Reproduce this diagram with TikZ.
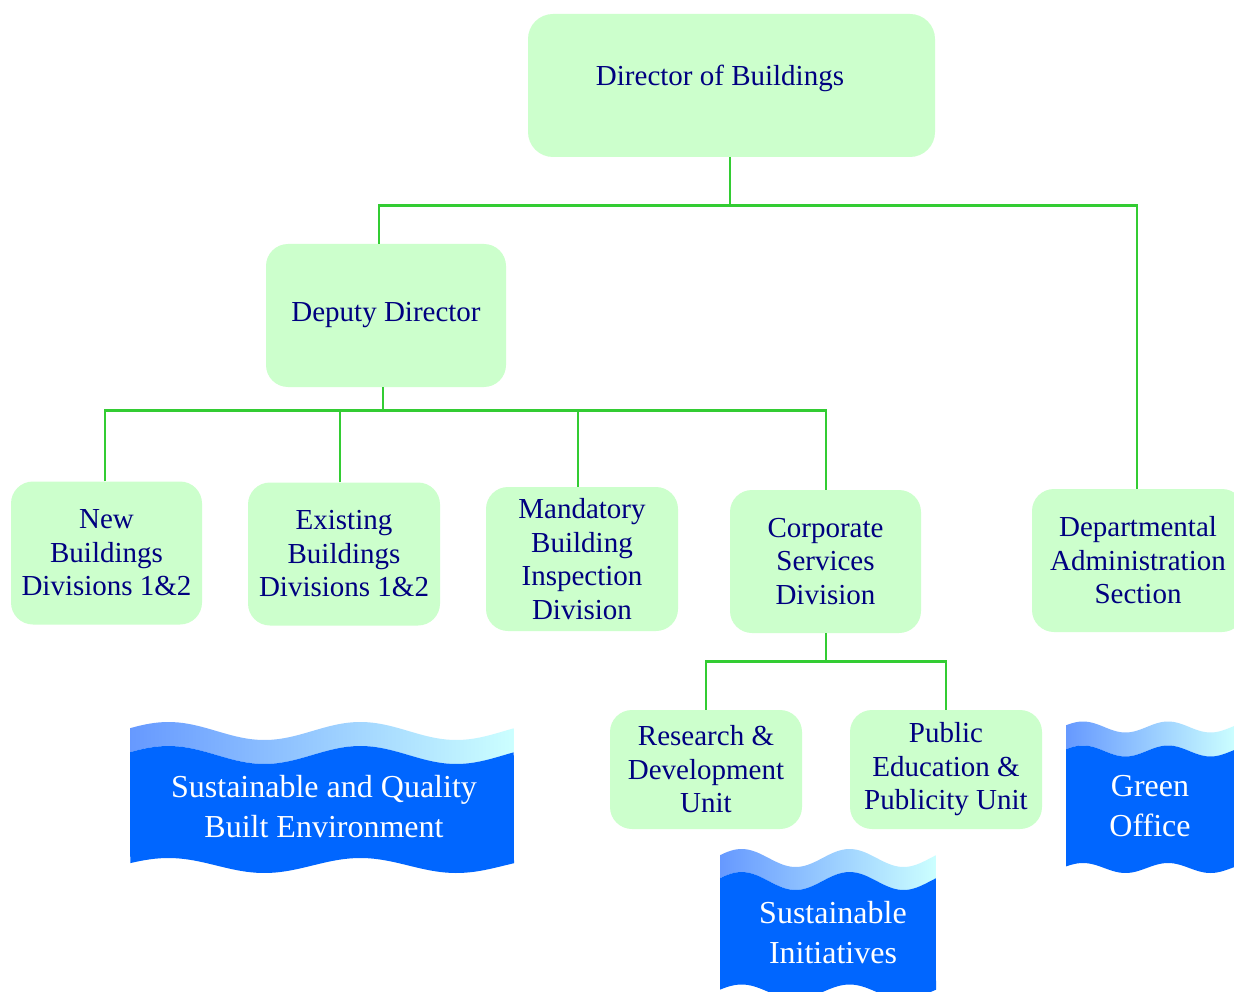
\documentclass[tikz,border=0pt]{standalone}
\usepackage{fontspec}
\setmainfont{Liberation Serif}
\definecolor{boxfill}{HTML}{CCFFCC}
\definecolor{navytext}{HTML}{000080}
\definecolor{linegreen}{HTML}{33CC33}
\definecolor{wavedark}{HTML}{0066FF}
\definecolor{waveleft}{HTML}{6699FF}
\definecolor{waveright}{HTML}{CCFFFF}
\newcommand\wavebanner[7]{%
  % #1 x0, #2 width, #3 top mid, #4 amplitude, #5 band, #6 bottom mid, #7 bottom amplitude
  \shade[left color=waveleft, right color=waveright]
    plot[domain=0:1, samples=80, variable=\u] ({#1+#2*\u},{#3-#4*sin(720*\u+18)})
    -- plot[domain=1:0, samples=80, variable=\u] ({#1+#2*\u},{#3+#5-#4*sin(720*\u+18)}) -- cycle;
  \fill[wavedark]
    plot[domain=0:1, samples=80, variable=\u] ({#1+#2*\u},{#3+#5-#4*sin(720*\u+18)})
    -- plot[domain=1:0, samples=80, variable=\u] ({#1+#2*\u},{#6-#7*sin(720*\u+18)}) -- cycle;
}
\begin{document}
\begin{tikzpicture}[x=1pt,y=-1pt,
  orgbox/.style={fill=boxfill, draw=none, rounded corners=22pt, text=navytext,
    align=center, font=\fontsize{29}{33.5}\selectfont, inner sep=0pt},
  boxtext/.style={text=navytext, align=center, font=\fontsize{29}{33.5}\selectfont, inner sep=0pt},
  conn/.style={draw=linegreen, line width=2.8pt},
  wavetext/.style={text=white, align=center, font=\fontsize{32}{40.5}\selectfont, inner sep=0pt}]
\clip (0,0) rectangle (1234,992);
\fill[white] (0,0) rectangle (1234,992);

% boxes
\node[orgbox, minimum width=407pt, minimum height=143pt, rounded corners=25pt] (dir) at (731.5,85.5) {};
\node[boxtext] (dirt) at (720,78) {Director of Buildings};
\node[orgbox, minimum width=240pt, minimum height=143pt] (dep) at (386,315.5) {Deputy Director};
\node[orgbox, minimum width=191pt, minimum height=143pt] (nb) at (106.5,553) {New\\Buildings\\Divisions 1\&2};
\node[orgbox, minimum width=192pt, minimum height=143pt] (eb) at (344,554) {Existing\\Buildings\\Divisions 1\&2};
\node[orgbox, minimum width=192pt, minimum height=144pt] (mbi) at (582,559) {Mandatory\\Building\\Inspection\\Division};
\node[orgbox, minimum width=191pt, minimum height=143pt] (csd) at (825.5,561.5) {Corporate\\Services\\Division};
\node[orgbox, minimum width=212pt, minimum height=143pt] (das) at (1138,560.5) {Departmental\\Administration\\Section};
\node[orgbox, minimum width=192pt, minimum height=119pt] (rd) at (706,769.5) {Research \&\\Development\\Unit};
\node[orgbox, minimum width=192pt, minimum height=119pt] (pe) at (946,769.5) {Public\\Education \&\\Publicity Unit};

% connectors
\draw[conn] ([xshift=-1.5pt]dir.south) -- ++(0,48) coordinate (b1);
\draw[conn] ([xshift=-7pt]dep.north) |- (b1) -| ([xshift=-1pt]das.north);
\draw[conn] ([xshift=-3pt]dep.south) -- ++(0,23) coordinate (b2);
\draw[conn] ([xshift=-1.5pt]nb.north) |- (b2) -| ([xshift=0.5pt]csd.north);
\draw[conn] ([xshift=-4pt]eb.north) |- (b2);
\draw[conn] ([xshift=-4pt]mbi.north) |- (b2);
\draw[conn] ([xshift=0.5pt]csd.south) -- ++(0,28) coordinate (b3);
\draw[conn] (rd.north) |- (b3) -| (pe.north);

% wave banners
\wavebanner{130}{384}{731}{9}{24}{865.5}{7.5}
\node[wavetext] (w1) at (324,806.5) {Sustainable and Quality\\Built Environment};
\wavebanner{720}{216}{858}{9}{23}{992}{7.5}
\node[wavetext] (w2) at (833,932.5) {Sustainable\\Initiatives};
\wavebanner{1066}{170}{727}{5.5}{24}{868}{5}
\node[wavetext] (w3) at (1150,806) {Green\\Office};
\end{tikzpicture}
\end{document}
